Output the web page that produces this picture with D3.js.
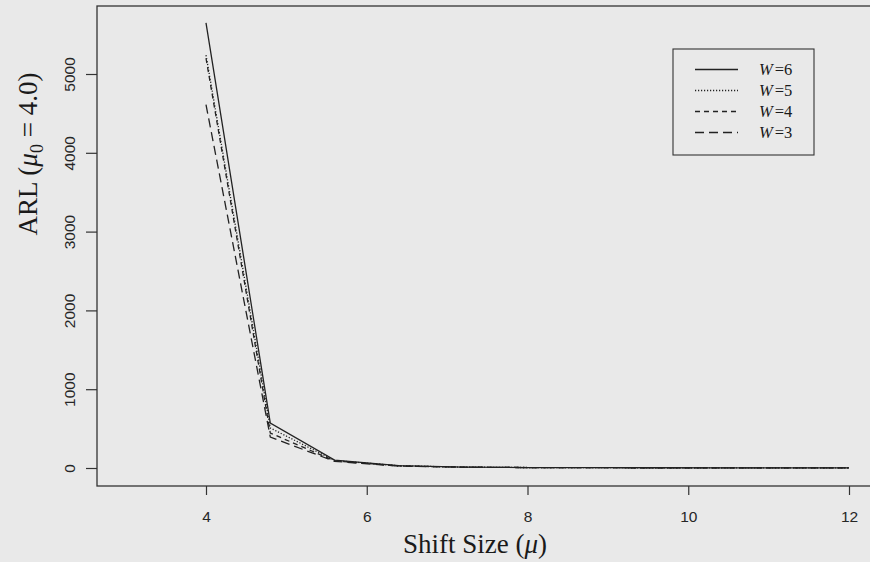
<!DOCTYPE html>
<html>
<head>
<meta charset="utf-8">
<script src="https://cdn.jsdelivr.net/npm/d3@7/dist/d3.min.js"></script>
<style>
  html, body { margin: 0; padding: 0; background: #e9e9e9; }
  svg { display: block; }
</style>
</head>
<body>
<svg id="chart" width="870" height="562"></svg>
<script>
// Shift sizes (mu) at which the ARL was evaluated
const shift = [4, 4.8, 5.6, 6.4, 7.2, 8, 8.8, 9.6, 10.4, 11.2, 12];

// ARL for each window size W
const arlW6 = [5650, 571, 100, 30, 12, 6, 4, 3, 2.5, 2, 1.8];
const arlW5 = [5240, 508, 95, 28, 11, 6, 4, 3, 2.4, 2, 1.8];
const arlW4 = [5200, 444, 90, 26, 11, 6, 4, 3, 2.4, 2, 1.8];
const arlW3 = [4610, 393, 84, 24, 10, 5.5, 4, 3, 2.4, 2, 1.8];

const seriesNames = ["W=6", "W=5", "W=4", "W=3"];
const seriesValues = [arlW6, arlW5, arlW4, arlW3];
const dashes = [null, "1.2,1.8", "5,4", "9,5"];

const xTicks = [4, 6, 8, 10, 12];
const yTicks = [0, 1000, 2000, 3000, 4000, 5000];

const svg = d3.select("#chart");
const W = 870, H = 562;

svg.append("rect").attr("width", W).attr("height", H).attr("fill", "#e9e9e9");

// plot frame
const frame = { left: 97, top: 6, right: 878, bottom: 486 };

const x = d3.scaleLinear().domain([4, 12]).range([206, 849]);
const y = d3.scaleLinear().domain([0, 5000]).range([468, 74]);

const ink = "#222";
const sans = "'Liberation Sans', Arial, sans-serif";
const serif = "'Liberation Serif', 'Times New Roman', serif";

// x axis
const gx = svg.append("g")
  .attr("transform", `translate(0,${frame.bottom})`)
  .call(d3.axisBottom(x).tickValues(xTicks).tickSize(9).tickPadding(16).tickFormat(d3.format("d")));
gx.select(".domain").remove();
gx.selectAll(".tick line").attr("stroke", "#333").attr("stroke-width", 1.2);
gx.selectAll(".tick text")
  .attr("fill", "#262626")
  .style("font-family", sans)
  .style("font-size", "15.5px");

// y axis
const gy = svg.append("g")
  .attr("transform", `translate(${frame.left},0)`)
  .call(d3.axisLeft(y).tickValues(yTicks).tickSize(11).tickFormat(d3.format("d")));
gy.select(".domain").remove();
gy.selectAll(".tick line").attr("stroke", "#333").attr("stroke-width", 1.2);
gy.selectAll(".tick text")
  .attr("x", null).attr("dy", null)
  .attr("text-anchor", "middle")
  .attr("transform", "translate(-22,0) rotate(-90)")
  .attr("fill", "#262626")
  .style("font-family", sans)
  .style("font-size", "15.5px");

// frame box
svg.append("rect")
  .attr("x", frame.left).attr("y", frame.top)
  .attr("width", frame.right - frame.left).attr("height", frame.bottom - frame.top)
  .attr("fill", "none").attr("stroke", "#333").attr("stroke-width", 1.3);

// series lines
const line = d3.line().x((d, i) => x(shift[i])).y(d => y(d));
seriesValues.forEach((vals, k) => {
  svg.append("path")
    .datum(vals)
    .attr("d", line)
    .attr("fill", "none")
    .attr("stroke", ink)
    .attr("stroke-width", 1.3)
    .attr("stroke-dasharray", dashes[k]);
});

// axis titles
const xt = svg.append("text")
  .attr("x", 475).attr("y", 553)
  .attr("text-anchor", "middle")
  .attr("fill", "#1a1a1a")
  .style("font-family", serif).style("font-size", "27px");
xt.append("tspan").text("Shift Size (");
xt.append("tspan").style("font-style", "italic").text("μ");
xt.append("tspan").text(")");

const yt = svg.append("text")
  .attr("transform", "translate(37,154) rotate(-90)")
  .attr("text-anchor", "middle")
  .attr("fill", "#1a1a1a")
  .style("font-family", serif).style("font-size", "27px");
yt.append("tspan").text("ARL (");
yt.append("tspan").style("font-style", "italic").text("μ");
yt.append("tspan").attr("dy", 6).style("font-size", "18px").text("0");
yt.append("tspan").attr("dy", -6).text(" = 4.0)");

// legend
const legend = { x: 673, y: 49, w: 141, h: 106 };
svg.append("rect")
  .attr("x", legend.x).attr("y", legend.y)
  .attr("width", legend.w).attr("height", legend.h)
  .attr("fill", "none").attr("stroke", "#333").attr("stroke-width", 1.1);

const rowY = d3.scalePoint().domain(seriesNames).range([69.5, 132.5]);
seriesNames.forEach((name, k) => {
  const ry = rowY(name);
  svg.append("line")
    .attr("x1", 695).attr("x2", 738)
    .attr("y1", ry).attr("y2", ry)
    .attr("stroke", ink).attr("stroke-width", 1.3)
    .attr("stroke-dasharray", dashes[k]);
  const t = svg.append("text")
    .attr("x", 759).attr("y", ry + 5.5)
    .attr("fill", "#1a1a1a")
    .style("font-family", serif).style("font-size", "16.5px");
  const parts = name.split("=");
  t.append("tspan").style("font-style", "italic").text(parts[0]);
  t.append("tspan").attr("dx", 2).text("=" + parts[1]);
});
</script>
</body>
</html>
